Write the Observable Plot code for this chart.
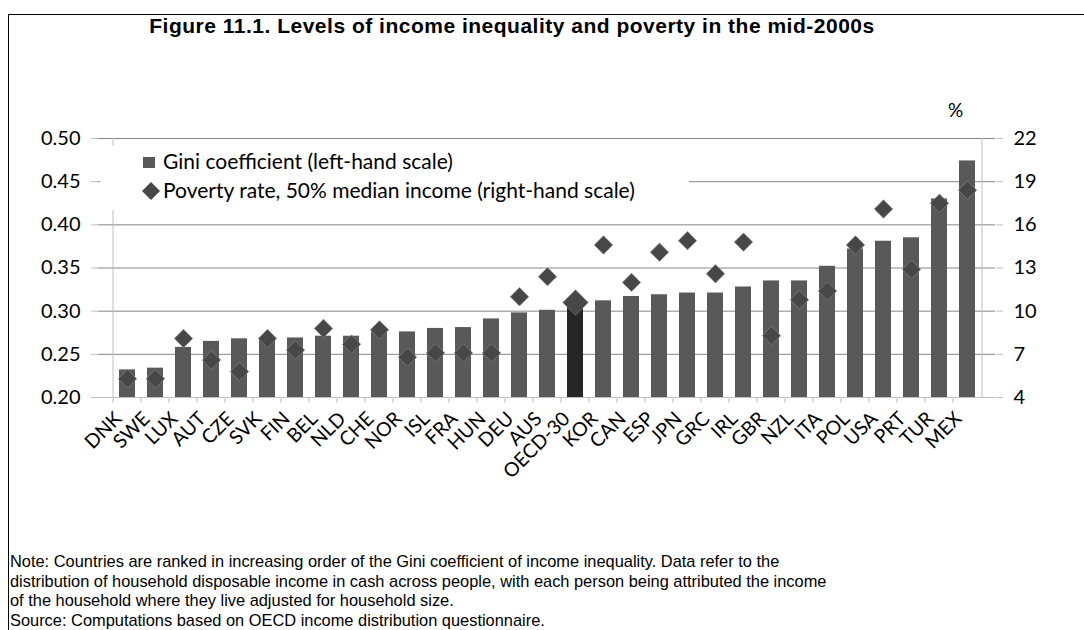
<!DOCTYPE html>
<html><head><meta charset="utf-8">
<script src="https://cdn.jsdelivr.net/npm/d3@7"></script>
<script src="https://cdn.jsdelivr.net/npm/@observablehq/plot@0.6"></script>
<style>
body{margin:0;background:#fff;}
#wrap{position:relative;width:1084px;height:630px;overflow:hidden;font-family:"Liberation Sans",Arial,sans-serif;color:#000;}
#frame{position:absolute;left:8px;top:14px;width:1200px;height:700px;border-left:1px solid #000;border-top:1px solid #000;}
#title{position:absolute;top:14px;left:0;width:1024px;text-align:center;font-weight:bold;font-size:21px;letter-spacing:0.5px;white-space:nowrap;}
#chart{position:absolute;left:0;top:0;}
#pct{position:absolute;left:948px;top:98px;font-family:Lato,sans-serif;font-size:19px;}
#legend{position:absolute;left:100px;top:146px;width:589px;height:64px;background:#fff;font-family:Lato,sans-serif;font-size:21px;}
.lg{position:absolute;left:63px;white-space:nowrap;line-height:24px;}
#sw1{position:absolute;left:43px;top:11px;width:12px;height:11px;background:#595959;}
#sw2{position:absolute;left:42px;top:36px;}
#notes{position:absolute;left:10px;top:552px;font-size:16.4px;line-height:19.5px;white-space:nowrap;}
</style></head>
<body>
<div id="wrap">
  <div id="frame"></div>
  <div id="title">Figure 11.1. Levels of income inequality and poverty in the mid-2000s</div>
  <div id="chart"></div>
  <div id="pct">%</div>
  <div id="legend">
    <div id="sw1"></div>
    <div class="lg" style="top:3px">Gini coefficient (left-hand scale)</div>
    <svg id="sw2" width="18" height="18"><path d="M9,0L18,9L9,18L0,9Z" fill="#474747"/></svg>
    <div class="lg" style="top:32px">Poverty rate, 50% median income (right-hand scale)</div>
  </div>
  <div id="notes">Note: Countries are ranked in increasing order of the Gini coefficient of income inequality. Data refer to the<br>distribution of household disposable income in cash across people, with each person being attributed the income<br>of the household where they live adjusted for household size.<br>Source: Computations based on OECD income distribution questionnaire.</div>
</div>
<script>
const countries = ["DNK","SWE","LUX","AUT","CZE","SVK","FIN","BEL","NLD","CHE","NOR","ISL","FRA","HUN","DEU","AUS","OECD-30","KOR","CAN","ESP","JPN","GRC","IRL","GBR","NZL","ITA","POL","USA","PRT","TUR","MEX"];
const gini = [0.232,0.234,0.258,0.265,0.268,0.268,0.269,0.271,0.271,0.276,0.276,0.280,0.281,0.291,0.298,0.301,0.311,0.312,0.317,0.319,0.321,0.321,0.328,0.335,0.335,0.352,0.372,0.381,0.385,0.430,0.474];
const poverty = [5.3,5.3,8.1,6.6,5.8,8.1,7.3,8.8,7.7,8.7,6.8,7.1,7.1,7.1,11.0,12.4,10.6,14.6,12.0,14.1,14.9,12.6,14.8,8.3,10.8,11.4,14.6,17.1,12.9,17.5,18.4];
const leftTicks = [0.20,0.25,0.30,0.35,0.40,0.45,0.50];
const rightTicks = [4,7,10,13,16,19,22];

const data = countries.map((c,i)=>({country:c, gini:gini[i], poverty:poverty[i]}));
const toLeft = p => 0.20 + (p - 4) / 3 * 0.05;
const fromLeft = g => 4 + (g - 0.20) / 0.05 * 3;

const W=1084, H=520, ML=98, MR=89, MT=138, MB=123;
const bw = (W-ML-MR)/countries.length;
const axisGray = "#bfbfbf";

const chart = Plot.plot({
  width:W, height:H, marginLeft:ML, marginRight:MR, marginTop:MT, marginBottom:MB,
  style:{fontFamily:"Lato, sans-serif", fontSize:"20px", color:"#000", background:"transparent", overflow:"visible"},
  x:{type:"band", domain:countries, padding:0},
  y:{domain:[0.2,0.5]},
  marks:[
    Plot.ruleY(leftTicks.slice(1), {y:d=>d, stroke:"#868686"}),
    Plot.barY(data, {x:"country", y1:0.2, y2:"gini", fill:d=>d.country==="OECD-30"?"#262626":"#595959", insetLeft:6, insetRight:6}),
    Plot.dot(data, {filter:d=>d.country!=="OECD-30", x:"country", y:d=>toLeft(d.poverty), symbol:"diamond2", r:8.3, fill:"#474747", stroke:"#8a8a8a", strokeWidth:0.6}),
    Plot.dot(data, {filter:d=>d.country==="OECD-30", x:"country", y:d=>toLeft(d.poverty), symbol:"diamond2", r:11.5, fill:"#474747", stroke:"#8a8a8a", strokeWidth:0.6}),
    Plot.ruleY([0.2], {y:d=>d, stroke:axisGray}),
    Plot.ruleX([countries[0]], {x:d=>d, dx:-bw/2, y1:0.2, y2:0.5, stroke:axisGray}),
    Plot.ruleX([countries[countries.length-1]], {x:d=>d, dx:bw/2, y1:0.2, y2:0.5, stroke:axisGray}),
    Plot.ruleX(countries, {x:d=>d, dx:-bw/2, y1:0.2, y2:0.2, insetBottom:-6, stroke:axisGray}),
    Plot.axisY({anchor:"left", ticks:leftTicks, tickFormat:d3.format(".2f"), tickSize:7, tickPadding:11, label:null, stroke:axisGray}),
    Plot.axisY({anchor:"right", ticks:rightTicks.map(toLeft), tickFormat:d=>String(Math.round(fromLeft(d))), tickSize:7, tickPadding:11, label:null, stroke:axisGray}),
    Plot.axisX({tickRotate:-45, tickSize:0, tickPadding:18, label:null, fontSize:19.5, dx:-9})
  ]
});
document.getElementById("chart").appendChild(chart);
</script>
</body></html>
